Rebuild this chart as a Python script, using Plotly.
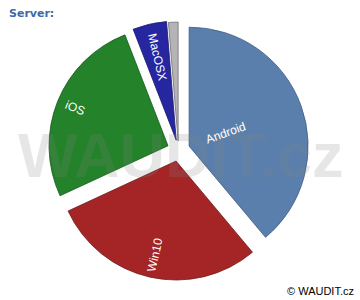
import math
import plotly.graph_objects as go

labels = ["Android", "Win10", "iOS", "MacOSX", "Other"]
values = [38.9, 29.2, 26.0, 4.6, 1.3]
slice_text = ["Android", "Win10", "iOS", "MacOSX", ""]
colors = ["#5b7fad", "#a52527", "#23822a", "#2626a0", "#b4b4b4"]
line_colors = ["#3e5a80", "#6e1a1a", "#175a1c", "#1a1a70", "#707070"]

# style: pull and label radial placement (fraction of radius from pie centre)
W, H = 360, 300
pulls = [0.095, 0.095, 0.095, 0.085, 0.075]
dom_x = [0.1339, 0.8578]
dom_y = [0.0657, 0.9343]
label_r = [0.42, 0.905, 0.94, 0.80, 0.0]

fig = go.Figure(go.Pie(
    labels=labels,
    values=values,
    textinfo="none",
    sort=False,
    direction="clockwise",
    rotation=0,
    pull=pulls,
    marker=dict(colors=colors, line=dict(color=line_colors, width=0.8)),
    domain=dict(x=dom_x, y=dom_y),
    showlegend=False,
    hoverinfo="label+percent",
))

# slice labels, rotated radially (position derived from the data's cumulative angles)
cx = (dom_x[0] + dom_x[1]) / 2
cy = (dom_y[0] + dom_y[1]) / 2
r_px = min(W * (dom_x[1] - dom_x[0]), H * (dom_y[1] - dom_y[0])) / 2 / (1 + max(pulls))
total = sum(values)
annotations = []
cum = 0.0
for txt, v, f in zip(slice_text, values, label_r):
    mid = (cum + v / 2) / total * 360.0
    cum += v
    if not txt:
        continue
    d = f * r_px
    dx = d * math.sin(math.radians(mid))
    dy = d * math.cos(math.radians(mid))
    ang = mid - 90
    if mid > 180:
        ang -= 180
    annotations.append(dict(
        text=txt, x=cx + dx / W, y=cy + dy / H, xref="paper", yref="paper",
        showarrow=False, xanchor="center", yanchor="middle", textangle=ang,
        font=dict(family="Liberation Sans", size=12, color="white")))

fig.update_layout(
    width=W, height=H,
    margin=dict(l=0, r=0, t=0, b=0),
    paper_bgcolor="white",
    plot_bgcolor="white",
    annotations=[
        dict(text="<b>WAUDIT.cz</b>", x=181 / W, y=1 - 155 / H, xref="paper", yref="paper",
             showarrow=False, xanchor="center", yanchor="middle",
             font=dict(family="Liberation Sans", size=63, color="rgba(128,128,128,0.2)")),
        dict(text="<b>Server:</b>", x=7 / W, y=1 - 5 / H, xref="paper", yref="paper",
             showarrow=False, xanchor="left", yanchor="top",
             font=dict(family="DejaVu Sans", size=11, color="#3d69a8")),
        dict(text="© WAUDIT.cz", x=1 - 4 / W, y=1 / H, xref="paper", yref="paper",
             showarrow=False, xanchor="right", yanchor="bottom",
             font=dict(family="Liberation Sans", size=11, color="black")),
    ] + annotations,
)

fig.write_html("out.html")
